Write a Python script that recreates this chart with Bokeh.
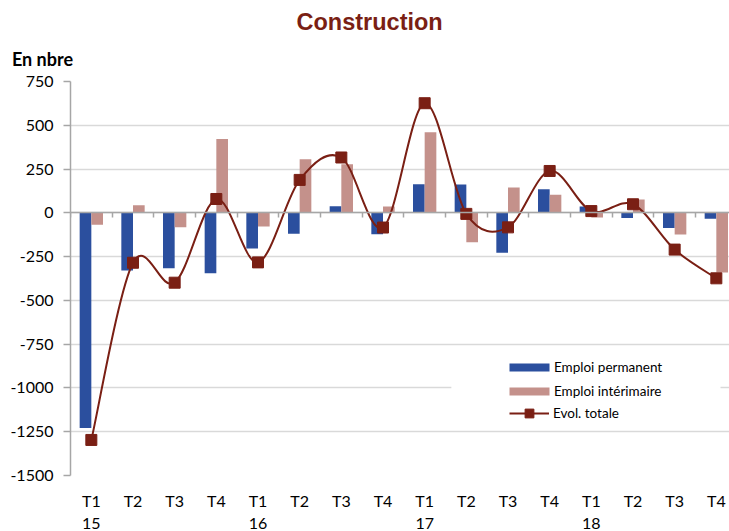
from bokeh.plotting import figure
from bokeh.models import (Range1d, FixedTicker, LinearAxis, Legend, LegendItem,
                          Title, BoxAnnotation, ColumnDataSource)
from bokeh.transform import dodge
from bokeh.embed import file_html
from bokeh.resources import INLINE

# ---- data ----
quarters = ["T1", "T2", "T3", "T4"] * 4
years = ["15", "16", "17", "18"]
perm = [-1229, -329, -316, -345, -204, -120, 38, -122, 163, 162, -228, 135, 36, -30, -86, -34]
interim = [-68, 43, -82, 422, -78, 306, 277, 36, 460, -168, 144, 103, -27, 76, -124, -341]
total = [-1297, -285, -399, 79, -283, 188, 316, -84, 626, -6, -83, 239, 10, 49, -210, -374]
y_ticks = [-1500, -1250, -1000, -750, -500, -250, 0, 250, 500, 750]

# ---- styles ----
BLUE = "#2B4F9E"
PINK = "#C4918B"
RED = "#7A1F14"
GRID = "#D9D9D9"
AXIS = "#A6A6A6"
FONT = "Lato"

n = len(perm)
xc = [i + 0.5 for i in range(n)]
src = ColumnDataSource(dict(x=xc, perm=perm, interim=interim, total=total))

p = figure(width=729, height=531, x_range=Range1d(0, 15.816), y_range=Range1d(-1500, 750),
           output_backend="svg", toolbar_location=None, x_axis_type=None,
           min_border_left=70, min_border_right=0, min_border_top=81, min_border_bottom=56)
p.outline_line_color = None
p.background_fill_color = "white"

# y axis
p.yaxis.ticker = FixedTicker(ticks=y_ticks)
p.yaxis.major_label_overrides = {t: str(t) for t in y_ticks}
p.yaxis.axis_line_color = AXIS
p.yaxis.axis_line_width = 1.5
p.yaxis.major_tick_line_color = AXIS
p.yaxis.major_tick_line_width = 1.5
p.yaxis.major_tick_out = 7
p.yaxis.major_tick_in = 0
p.yaxis.minor_tick_line_color = None
p.yaxis.major_label_standoff = 10
p.yaxis.major_label_text_font = FONT
p.yaxis.major_label_text_font_size = "16px"
p.yaxis.major_label_text_color = "black"
p.ygrid.ticker = FixedTicker(ticks=y_ticks)
p.ygrid.grid_line_color = GRID
p.ygrid.grid_line_width = 1.5

# bars
r_perm = p.vbar(x=dodge("x", -0.14), top="perm", width=0.28, source=src,
                fill_color=BLUE, line_color=None)
r_int = p.vbar(x=dodge("x", 0.14), top="interim", width=0.28, source=src,
               fill_color=PINK, line_color=None)

# smoothed total line (Catmull-Rom style Bezier through the data points)
pts = list(zip(xc, total))
def P(i):
    return pts[min(max(i, 0), n - 1)]
bez = dict(x0=[], y0=[], x1=[], y1=[], cx0=[], cy0=[], cx1=[], cy1=[])
for i in range(n - 1):
    a, b, c, d = P(i - 1), P(i), P(i + 1), P(i + 2)
    bez["x0"].append(b[0]); bez["y0"].append(b[1])
    bez["x1"].append(c[0]); bez["y1"].append(c[1])
    bez["cx0"].append(b[0] + (c[0] - a[0]) / 6); bez["cy0"].append(b[1] + (c[1] - a[1]) / 6)
    bez["cx1"].append(c[0] - (d[0] - b[0]) / 6); bez["cy1"].append(c[1] - (d[1] - b[1]) / 6)
r_line = p.bezier(x0="x0", y0="y0", x1="x1", y1="y1", cx0="cx0", cy0="cy0", cx1="cx1", cy1="cy1",
                  source=ColumnDataSource(bez), line_color=RED, line_width=2)
r_pts = p.scatter("x", "total", marker="square", size=11, source=src,
                  fill_color=RED, line_color=RED)

# zero axis with category boundary ticks
bounds = list(range(n + 1))
zero_axis = LinearAxis(fixed_location=0, ticker=FixedTicker(ticks=bounds),
                       major_label_overrides={b: "" for b in bounds},
                       axis_line_color=AXIS, axis_line_width=1.5,
                       major_tick_line_color=AXIS, major_tick_line_width=1.5,
                       major_tick_out=5, major_tick_in=0, minor_tick_line_color=None)
p.add_layout(zero_axis, "below")

# category labels (quarters, then years underneath)
q_axis = LinearAxis(ticker=FixedTicker(ticks=xc),
                    major_label_overrides={x: q for x, q in zip(xc, quarters)},
                    axis_line_color=None, major_tick_line_color=None, minor_tick_line_color=None,
                    major_tick_out=0, major_tick_in=0, major_label_standoff=15,
                    major_label_text_font=FONT, major_label_text_font_size="16px",
                    major_label_text_color="black")
p.add_layout(q_axis, "below")
year_pos = [xc[i] for i in range(0, n, 4)]
yr_axis = LinearAxis(ticker=FixedTicker(ticks=year_pos),
                     major_label_overrides={x: y for x, y in zip(year_pos, years)},
                     axis_line_color=None, major_tick_line_color=None, minor_tick_line_color=None,
                     major_tick_out=0, major_tick_in=0, major_label_standoff=5,
                     major_label_text_font=FONT, major_label_text_font_size="16px",
                     major_label_text_color="black")
p.add_layout(yr_axis, "below")

# white area behind legend
p.add_layout(BoxAnnotation(left=9.14, right=15.6, top=-800, bottom=-1200,
                           fill_color="white", fill_alpha=1, line_color=None))

leg1 = Legend(items=[LegendItem(label="Emploi permanent", renderers=[r_perm]),
                     LegendItem(label="Emploi intérimaire", renderers=[r_int])],
              location=(434, 76), glyph_width=50, glyph_height=10, label_height=16,
              spacing=8, padding=0, margin=0, label_standoff=0,
              background_fill_alpha=0, border_line_color=None,
              label_text_font=FONT, label_text_font_size="13.5px", label_text_color="black")
leg2 = Legend(items=[LegendItem(label="Evol. totale", renderers=[r_line, r_pts])],
              location=(439, 50.6), glyph_width=40, glyph_height=22, label_height=16,
              spacing=0, padding=0, margin=0, label_standoff=4,
              background_fill_alpha=0, border_line_color=None,
              label_text_font=FONT, label_text_font_size="13.5px", label_text_color="black")
p.add_layout(leg1)
p.add_layout(leg2)

# titles: first added sits nearest to the frame
p.add_layout(Title(text="En nbre", align="left", offset=-58.6, standoff=24,
                   text_font=FONT, text_font_style="bold", text_font_size="18px",
                   text_color="black"), "above")
p.add_layout(Title(text="Construction", align="left", offset=226, standoff=-2,
                   text_font="Liberation Sans", text_font_style="bold",
                   text_font_size="23.5px", text_color=RED), "above")

open("out.html", "w").write(file_html(p, INLINE))
